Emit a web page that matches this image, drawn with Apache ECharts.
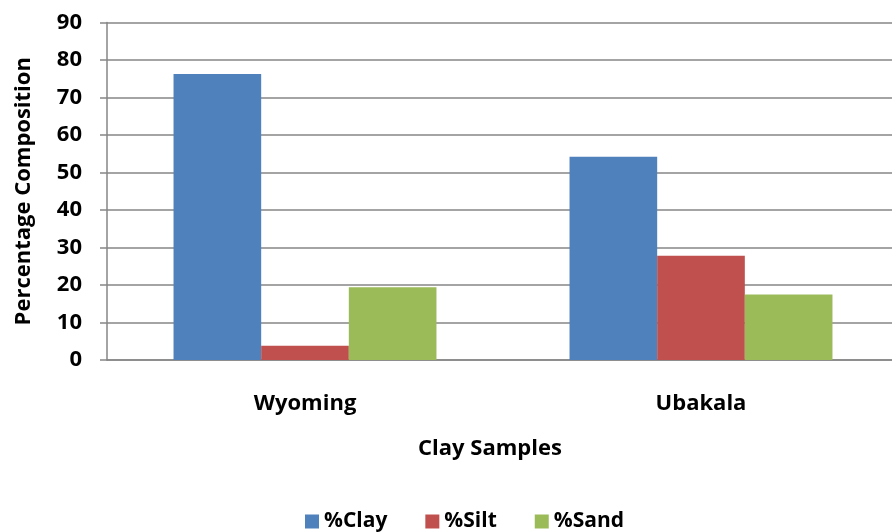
<!DOCTYPE html>
<html>
<head>
<meta charset="utf-8">
<script src="https://cdn.jsdelivr.net/npm/echarts@6/dist/echarts.min.js"></script>
<style>
  html, body { margin: 0; padding: 0; background: #fff; }
  #chart { width: 892px; height: 532px; }
</style>
</head>
<body>
<div id="chart"></div>
<script>
// chart data
const samples = ['Wyoming', 'Ubakala']
const clay = [76.3, 54.2]
const silt = [3.8, 27.8]
const sand = [19.4, 17.5]

const font = 'Open Sans'
const gridColor = '#868686'
const labelStyle = { fontSize: 22, fontWeight: 'bold', color: '#000', fontFamily: font }

const chart = echarts.init(document.getElementById('chart'))
chart.setOption({
  animation: false,
  textStyle: { fontFamily: font },
  legend: {
    left: 305,
    top: 511,
    padding: 0,
    itemWidth: 14,
    itemHeight: 14,
    itemGap: 38,
    icon: 'rect',
    textStyle: Object.assign({}, labelStyle, { fontSize: 21 }),
    data: ['%Clay', '%Silt', '%Sand']
  },
  grid: {
    left: 107,
    width: 792,
    top: 22.5,
    height: 337.5,
    outerBoundsMode: 'none'
  },
  xAxis: {
    type: 'category',
    data: samples,
    name: 'Clay Samples',
    nameLocation: 'middle',
    nameGap: 78,
    nameTextStyle: Object.assign({}, labelStyle, { padding: [0, 26, 0, 0] }),
    axisLine: { lineStyle: { color: gridColor, width: 1.5 } },
    axisTick: { length: 8, lineStyle: { color: gridColor, width: 1.5 } },
    axisLabel: Object.assign({}, labelStyle, { margin: 33 })
  },
  yAxis: {
    type: 'value',
    min: 0,
    max: 90,
    interval: 10,
    name: 'Percentage Composition',
    nameLocation: 'middle',
    nameGap: 72,
    nameTextStyle: labelStyle,
    axisLine: { show: true, lineStyle: { color: gridColor, width: 1.5 } },
    axisTick: { show: true, length: 7, lineStyle: { color: gridColor, width: 1.5 } },
    axisLabel: Object.assign({}, labelStyle, { margin: 25 }),
    splitLine: { lineStyle: { color: gridColor, width: 1.5 } }
  },
  series: [{
    name: '%Clay',
    type: 'bar',
    data: clay,
    barGap: '0%',
    barCategoryGap: '33.6%',
    itemStyle: { color: '#4F81BD' }
  }, {
    name: '%Silt',
    type: 'bar',
    data: silt,
    itemStyle: { color: '#C0504D' }
  }, {
    name: '%Sand',
    type: 'bar',
    data: sand,
    itemStyle: { color: '#9BBB59' }
  }]
})
</script>
</body>
</html>
